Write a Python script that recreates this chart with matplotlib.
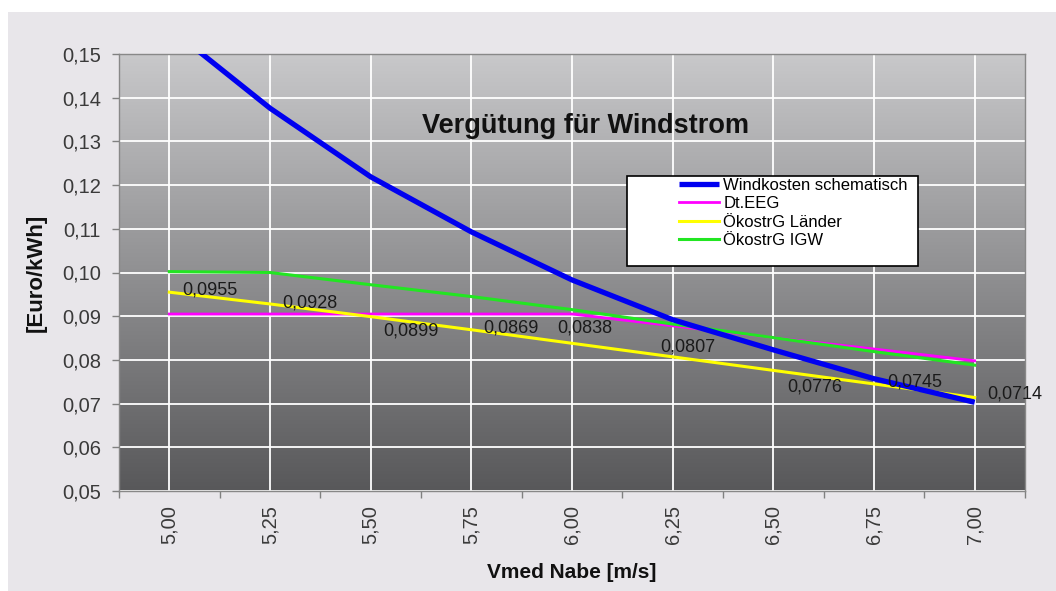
import numpy as np
import matplotlib
matplotlib.use("Agg")
import matplotlib.pyplot as plt
from matplotlib.patches import Rectangle
from matplotlib.ticker import FuncFormatter, FixedLocator

plt.rcParams['font.family'] = ['Liberation Sans', 'DejaVu Sans']

categories = ["5,00", "5,25", "5,50", "5,75", "6,00", "6,25", "6,50", "6,75", "7,00"]
windkosten = [0.1560, 0.1376, 0.1219, 0.1093, 0.0983, 0.0892, 0.0823, 0.0757, 0.0703]
dt_eeg = [0.0905, 0.0905, 0.0905, 0.0905, 0.0905, 0.0878, 0.0851, 0.0825, 0.0798]
oeko_laender = [0.0955, 0.0928, 0.0899, 0.0869, 0.0838, 0.0807, 0.0776, 0.0745, 0.0714]
oeko_igw = [0.1002, 0.1000, 0.0972, 0.0945, 0.0915, 0.0882, 0.0851, 0.0819, 0.0788]
label_texts = ["0,0955", "0,0928", "0,0899", "0,0869", "0,0838", "0,0807", "0,0776", "0,0745", "0,0714"]
label_offsets = [(41, 2), (40, 1), (40, -14), (40, 2), (13, 15), (15, 10), (41, -17), (41, 2), (40, 3)]

W, H = 1056, 591
fig = plt.figure(figsize=(W / 100, H / 100), dpi=100)
fig.patch.set_facecolor('white')
fig.patches.append(Rectangle((8 / W, 0), 1 - 8 / W, 1 - 12 / H, transform=fig.transFigure,
                             facecolor='#E8E6EA', edgecolor='none', zorder=-10))

ax = fig.add_axes([119 / W, 1 - 491 / H, (1025 - 119) / W, (491 - 54) / H])
ax.set_facecolor('none')

# gradient background
grad = np.linspace(0, 1, 256).reshape(-1, 1)
top = np.array([200, 200, 202]) / 255
bot = np.array([88, 88, 90]) / 255
img = top[None, None, :] * (1 - grad[:, :, None]) + bot[None, None, :] * grad[:, :, None]
ax.imshow(img, extent=[0, 1, 0, 1], transform=ax.transAxes, aspect='auto', zorder=0)

x = np.arange(len(categories))
ax.set_xlim(-0.5, len(categories) - 0.5)
ax.set_ylim(0.05, 0.15)

# gridlines
ax.set_yticks(np.arange(0.05, 0.1501, 0.01))
ax.yaxis.set_major_formatter(FuncFormatter(lambda v, p: f"{v:.2f}".replace('.', ',')))
ax.xaxis.set_major_locator(FixedLocator(np.arange(-0.5, len(categories), 1)))
ax.xaxis.set_major_formatter(FuncFormatter(lambda v, p: ""))
ax.xaxis.set_minor_locator(FixedLocator(x))
ax.set_xticklabels(categories, minor=True, rotation=90)
ax.grid(axis='y', which='major', color='white', lw=1.3, zorder=1)
ax.grid(axis='x', which='minor', color='white', lw=1.3, zorder=1)
ax.set_axisbelow(False)

ax.tick_params(axis='y', which='major', direction='out', length=5, width=1, color='#808080',
               labelsize=14.5, labelcolor='#3a3a3a', pad=8)
ax.tick_params(axis='x', which='major', direction='out', length=5, width=1, color='#808080')
ax.tick_params(axis='x', which='minor', length=0, labelsize=14.5, labelcolor='#3a3a3a', pad=10)
for s in ax.spines.values():
    s.set_color('#888888')
    s.set_linewidth(1)
    s.set_zorder(3)

l1, = ax.plot(x, windkosten, color='#0000F0', lw=3.8, zorder=5, solid_capstyle='butt')
l2, = ax.plot(x, dt_eeg, color='#FF00FF', lw=2.0, zorder=3)
l3, = ax.plot(x, oeko_laender, color='#FFFF00', lw=2.2, zorder=4)
l4, = ax.plot(x, oeko_igw, color='#22E622', lw=2.2, zorder=3)

for xi, yi, t, (dx, dy) in zip(x, oeko_laender, label_texts, label_offsets):
    ax.annotate(t, (xi, yi), xytext=(dx, dy), textcoords='offset pixels', ha='center', va='center',
                fontsize=13, color='#1a1a1a', zorder=6)

ax.text(0.515, 0.835, "Vergütung für Windstrom", transform=ax.transAxes, ha='center', va='center',
        fontsize=19.5, fontweight='bold', color='#111111', zorder=6)

ax.set_ylabel("[Euro/kWh]", fontsize=16, fontweight='bold', color='#111111')
ax.yaxis.set_label_coords(-72 / (1025 - 119), 0.5)
ax.set_xlabel("Vmed Nabe [m/s]", fontsize=15, fontweight='bold', color='#111111')
ax.xaxis.set_label_coords(0.5, -(563 - 491) / (491 - 54))

# legend box
fig.patches.append(Rectangle((627 / W, 1 - 266 / H), 291 / W, 90 / H, transform=fig.transFigure,
                             facecolor='white', edgecolor='black', lw=1.2, zorder=8))
leg = fig.legend([l1, l2, l3, l4],
                 ["Windkosten schematisch", "Dt.EEG", "ÖkostrG Länder", "ÖkostrG IGW"],
                 loc='upper left', bbox_to_anchor=(679 / W, 1 - 178 / H), frameon=False,
                 fontsize=12, handlelength=2.4, handletextpad=0.25, labelspacing=0.2,
                 borderpad=0, borderaxespad=0)
leg.set_zorder(9)

fig.savefig("out.png", dpi=100, facecolor=fig.get_facecolor())
